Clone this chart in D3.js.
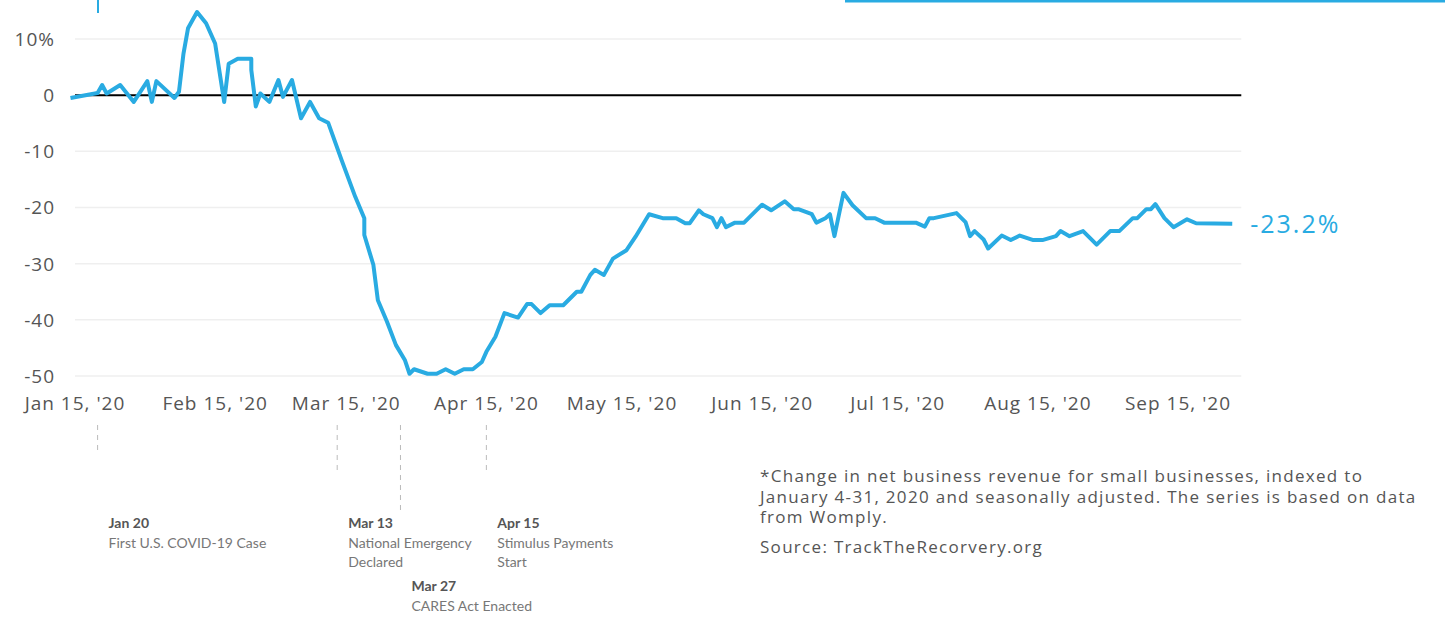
<!DOCTYPE html>
<html>
<head>
<meta charset="UTF-8" />
<title>Small business revenue</title>
<style>
  body { margin: 0; background: #fff; }
  .tick-label { font-family: "Open Sans", sans-serif; font-size: 19px; fill: #555; letter-spacing: 1px; }
  .grid { stroke: #efefef; stroke-width: 1.5px; }
  .zero { stroke: #000; stroke-width: 2px; }
  .series { fill: none; stroke: #29abe2; stroke-width: 4px; stroke-linejoin: round; }
  .end-label { font-family: "Open Sans", sans-serif; font-size: 25px; fill: #29abe2; letter-spacing: 2px; }
  .leader { stroke: #bbb; stroke-width: 1px; stroke-dasharray: 5,5; }
  .ann-title { font-family: Lato, sans-serif; font-size: 14px; font-weight: bold; fill: #555; }
  .ann-text { font-family: Lato, sans-serif; font-size: 14px; fill: #777; }
  .note { font-family: "Open Sans", sans-serif; font-size: 17px; fill: #555; letter-spacing: 1.3px; }
</style>
<script src="https://d3js.org/d3.v7.min.js"></script>
</head>
<body>
<div id="chart"></div>
<script>
// ---- data ----
var dates = ["2020-01-14","2020-01-20","2020-01-21","2020-01-22","2020-01-25","2020-01-28","2020-01-31","2020-02-01","2020-02-02",
  "2020-02-06","2020-02-07","2020-02-08","2020-02-09","2020-02-11","2020-02-13","2020-02-15","2020-02-17","2020-02-18","2020-02-20",
  "2020-02-23","2020-02-23","2020-02-24","2020-02-25","2020-02-27","2020-02-29","2020-03-01","2020-03-03","2020-03-05","2020-03-07",
  "2020-03-09","2020-03-11","2020-03-14","2020-03-17","2020-03-19","2020-03-19","2020-03-21","2020-03-22","2020-03-24","2020-03-26",
  "2020-03-28","2020-03-29","2020-03-30","2020-04-02","2020-04-04","2020-04-06","2020-04-08","2020-04-10","2020-04-12","2020-04-14",
  "2020-04-15","2020-04-17","2020-04-19","2020-04-22","2020-04-24","2020-04-25","2020-04-27","2020-04-29","2020-05-02","2020-05-05",
  "2020-05-06","2020-05-08","2020-05-09","2020-05-11","2020-05-13","2020-05-16","2020-05-18","2020-05-21","2020-05-24","2020-05-27",
  "2020-05-29","2020-05-30","2020-06-01","2020-06-02","2020-06-04","2020-06-05","2020-06-06","2020-06-07","2020-06-09","2020-06-11",
  "2020-06-15","2020-06-17","2020-06-20","2020-06-22","2020-06-23","2020-06-26","2020-06-27","2020-06-29","2020-06-30","2020-07-01",
  "2020-07-03","2020-07-05","2020-07-08","2020-07-10","2020-07-12","2020-07-19","2020-07-21","2020-07-22","2020-07-23","2020-07-28",
  "2020-07-30","2020-07-31","2020-08-01","2020-08-03","2020-08-04","2020-08-07","2020-08-09","2020-08-11","2020-08-14","2020-08-16",
  "2020-08-19","2020-08-20","2020-08-22","2020-08-25","2020-08-28","2020-08-31","2020-09-02","2020-09-05","2020-09-06","2020-09-08",
  "2020-09-09","2020-09-10","2020-09-12","2020-09-14","2020-09-17","2020-09-19","2020-09-27"];
var values = [-0.5,0.4,1.8,0.3,1.8,-1.2,2.5,-1.2,2.5,
  -0.5,0.6,7.4,11.9,14.8,12.8,9.2,-1.2,5.6,6.5,
  6.5,4.5,-2.0,0.3,-1.2,2.7,-0.3,2.7,-4.1,-1.2,
  -4.1,-4.9,-11.6,-18.1,-21.9,-24.9,-30.2,-36.5,-40.3,-44.5,
  -47.2,-49.6,-48.8,-49.6,-49.6,-48.8,-49.6,-48.8,-48.8,-47.5,
  -45.7,-43.0,-38.8,-39.6,-37.2,-37.2,-38.8,-37.4,-37.4,-35.0,
  -35.0,-32.0,-31.1,-32.0,-29.1,-27.6,-25.2,-21.2,-21.9,-21.9,
  -22.8,-22.8,-20.5,-21.2,-21.9,-23.5,-21.9,-23.5,-22.7,-22.7,
  -19.5,-20.5,-18.9,-20.3,-20.3,-21.2,-22.7,-21.9,-21.2,-25.1,
  -17.4,-19.6,-21.9,-21.9,-22.7,-22.7,-23.4,-21.9,-21.9,-21.0,
  -22.6,-25.1,-24.2,-25.7,-27.3,-25.0,-25.8,-25.0,-25.8,-25.8,
  -25.1,-24.2,-25.1,-24.2,-26.6,-24.2,-24.2,-21.9,-21.9,-20.3,
  -20.3,-19.4,-21.9,-23.5,-22.1,-22.8,-22.9];

var xTickDates = ["2020-01-15","2020-02-15","2020-03-15","2020-04-15","2020-05-15","2020-06-15","2020-07-15","2020-08-15","2020-09-15"];
var xTickLabels = ["Jan 15, '20","Feb 15, '20","Mar 15, '20","Apr 15, '20","May 15, '20","Jun 15, '20","Jul 15, '20","Aug 15, '20","Sep 15, '20"];
var yTicks = [10, 0, -10, -20, -30, -40, -50];
var yTickLabels = ["10%", "0", "-10", "-20", "-30", "-40", "-50"];
var endLabel = "-23.2%";

var annotations = [
  { date: "2020-01-20", title: "Jan 20", lines: ["First U.S. COVID-19 Case"] },
  { date: "2020-03-13", title: "Mar 13", lines: ["National Emergency", "Declared"] },
  { date: "2020-03-27", title: "Mar 27", lines: ["CARES Act Enacted"] },
  { date: "2020-04-15", title: "Apr 15", lines: ["Stimulus Payments", "Start"] }
];
var notes = [
  "*Change in net business revenue for small businesses, indexed to",
  "January 4-31, 2020 and seasonally adjusted. The series is based on data",
  "from Womply."
];
var source = "Source: TrackTheRecorvery.org";

// ---- layout ----
var width = 1445, height = 625;
var parse = d3.utcParse("%Y-%m-%d");

var svg = d3.select("#chart").append("svg")
  .attr("width", width)
  .attr("height", height);

var x = d3.scaleUtc()
  .domain([parse("2020-01-15"), parse("2020-09-15")])
  .range([75, 1178]);

var y = d3.scaleLinear()
  .domain([-50, 10])
  .range([376, 39]);

var gridStart = parse("2020-01-15"), gridEnd = parse("2020-09-29");

// decorative bits cut in from the page above
svg.append("rect").attr("x", 97).attr("y", 0).attr("width", 2).attr("height", 13).attr("fill", "#29abe2");
svg.append("rect").attr("x", 845).attr("y", 0).attr("width", 600).attr("height", 2.5).attr("fill", "#29abe2");

// gridlines
svg.selectAll(".grid")
  .data(yTicks.filter(function(d) { return d !== 0; }))
  .enter().append("line")
  .attr("class", "grid")
  .attr("x1", x(gridStart))
  .attr("x2", x(gridEnd))
  .attr("y1", function(d) { return y(d); })
  .attr("y2", function(d) { return y(d); });

svg.append("line")
  .attr("class", "zero")
  .attr("x1", x(gridStart))
  .attr("x2", x(gridEnd))
  .attr("y1", y(0))
  .attr("y2", y(0));

// y labels
svg.selectAll(".ylab")
  .data(yTicks)
  .enter().append("text")
  .attr("class", "tick-label")
  .attr("text-anchor", "end")
  .attr("x", 55)
  .attr("y", function(d) { return y(d); })
  .attr("dy", "0.36em")
  .text(function(d, i) { return yTickLabels[i]; });

// x labels
svg.selectAll(".xlab")
  .data(xTickDates)
  .enter().append("text")
  .attr("class", "tick-label")
  .attr("text-anchor", "middle")
  .attr("x", function(d) { return x(parse(d)); })
  .attr("y", 410)
  .text(function(d, i) { return xTickLabels[i]; });

// series
var series = dates.map(function(d, i) { return { date: parse(d), value: values[i] }; });
var line = d3.line()
  .x(function(d) { return x(d.date); })
  .y(function(d) { return y(d.value); });

svg.append("path")
  .datum(series)
  .attr("class", "series")
  .attr("d", line);

var last = series[series.length - 1];
svg.append("text")
  .attr("class", "end-label")
  .attr("x", x(last.date) + 18)
  .attr("y", y(last.value))
  .attr("dy", "0.36em")
  .text(endLabel);

// annotations
var leaderEnd = [452, 470, 512, 470];
var textTop = [528, 528, 591, 528];

annotations.forEach(function(a, i) {
  var ax = x(parse(a.date));
  svg.append("line")
    .attr("class", "leader")
    .attr("x1", ax).attr("x2", ax)
    .attr("y1", 425).attr("y2", leaderEnd[i]);
  svg.append("text")
    .attr("class", "ann-title")
    .attr("x", ax + 11)
    .attr("y", textTop[i])
    .text(a.title);
  a.lines.forEach(function(t, j) {
    svg.append("text")
      .attr("class", "ann-text")
      .attr("x", ax + 11)
      .attr("y", textTop[i] + 20 + j * 18.5)
      .text(t);
  });
});

// footnote
svg.selectAll(".note")
  .data(notes)
  .enter().append("text")
  .attr("class", "note")
  .attr("x", 760)
  .attr("y", function(d, i) { return 482 + i * 20.5; })
  .text(function(d) { return d; });

svg.append("text")
  .attr("class", "note")
  .attr("x", 760)
  .attr("y", 553)
  .text(source);
</script>
</body>
</html>
